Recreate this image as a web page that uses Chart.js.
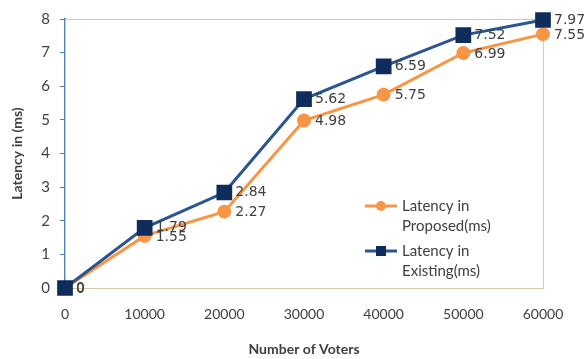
<!DOCTYPE html>
<html>
<head>
<meta charset="utf-8">
<script src="https://cdn.jsdelivr.net/npm/chart.js@4/dist/chart.umd.min.js"></script>
<style>
  html, body { margin: 0; padding: 0; background: #fff; }
  #wrap { width: 587px; height: 359px; }
</style>
</head>
<body>
<div id="wrap"><canvas id="latencyChart" width="587" height="359"></canvas></div>
<script>
// Latency vs number of voters
const voters = [0, 10000, 20000, 30000, 40000, 50000, 60000];
const proposedLatency = [0, 1.55, 2.27, 4.98, 5.75, 6.99, 7.55];
const existingLatency = [0, 1.79, 2.84, 5.62, 6.59, 7.52, 7.97];
const yTicks = [0, 1, 2, 3, 4, 5, 6, 7, 8];

const ORANGE = '#f79646';
const BLUE_LINE = '#2b5590';
const BLUE_MARK = '#0f2d5c';
const TEXT = '#404040';

function toPoints(ys) {
    return voters.map((x, i) => ({ x: x, y: ys[i] }));
}

// border around the plot area (tan frame)
const plotFrame = {
    id: 'plotFrame',
    beforeDatasetsDraw(chart) {
        const a = chart.chartArea;
        const ctx = chart.ctx;
        ctx.save();
        ctx.strokeStyle = '#d8c9aa';
        ctx.lineWidth = 1;
        ctx.strokeRect(a.left + 0.5, a.top + 0.5, a.right - a.left, a.bottom - a.top);
        ctx.restore();
    }
};

// value labels to the right of each point
const valueLabels = {
    id: 'valueLabels',
    afterDatasetsDraw(chart) {
        const ctx = chart.ctx;
        ctx.save();
        ctx.font = '14px "DejaVu Sans"';
        ctx.fillStyle = TEXT;
        ctx.textAlign = 'left';
        ctx.textBaseline = 'middle';
        chart.data.datasets.forEach((ds, di) => {
            const meta = chart.getDatasetMeta(di);
            meta.data.forEach((pt, i) => {
                ctx.fillText(String(ds.data[i].y), pt.x + 11, pt.y + ds.labelDy);
            });
        });
        ctx.restore();
    }
};

// legend with line + marker and two-line captions
const sideLegend = {
    id: 'sideLegend',
    afterDraw(chart) {
        const a = chart.chartArea;
        const ctx = chart.ctx;
        const x0 = a.left + 300;
        let y = a.top + 187;
        ctx.save();
        chart.data.datasets.forEach((ds) => {
            ctx.strokeStyle = ds.borderColor;
            ctx.lineWidth = 3;
            ctx.beginPath();
            ctx.moveTo(x0, y);
            ctx.lineTo(x0 + 32, y);
            ctx.stroke();
            ctx.fillStyle = ds.pointBackgroundColor;
            ctx.beginPath();
            if (ds.pointStyle === 'rect') {
                ctx.rect(x0 + 11, y - 5, 10, 10);
            } else {
                ctx.arc(x0 + 16, y, 5, 0, Math.PI * 2);
            }
            ctx.fill();
            ctx.fillStyle = TEXT;
            ctx.font = '15px Lato';
            ctx.textAlign = 'left';
            ctx.textBaseline = 'middle';
            ds.legendLines.forEach((line, k) => {
                ctx.fillText(line, x0 + 37, y + k * 20);
            });
            y += 45;
        });
        ctx.restore();
    }
};

new Chart(document.getElementById('latencyChart'), {
    type: 'line',
    data: {
        datasets: [
            {
                label: 'Latency in Proposed(ms)',
                legendLines: ['Latency in', 'Proposed(ms)'],
                labelDy: 1,
                data: toPoints(proposedLatency),
                borderColor: ORANGE,
                backgroundColor: ORANGE,
                pointBackgroundColor: ORANGE,
                pointBorderColor: ORANGE,
                pointStyle: 'circle',
                pointRadius: 5.5,
                borderWidth: 3,
                tension: 0,
                clip: false,
                order: 1
            },
            {
                label: 'Latency in Existing(ms)',
                legendLines: ['Latency in', 'Existing(ms)'],
                labelDy: 0,
                data: toPoints(existingLatency),
                borderColor: BLUE_LINE,
                backgroundColor: BLUE_MARK,
                pointBackgroundColor: BLUE_MARK,
                pointBorderColor: BLUE_MARK,
                pointStyle: 'rect',
                pointRadius: 9,
                borderWidth: 3,
                tension: 0,
                clip: false,
                order: 0
            }
        ]
    },
    options: {
        responsive: false,
        animation: false,
        layout: { padding: { top: 16, right: 44, left: 0, bottom: 0 } },
        plugins: {
            legend: { display: false },
            tooltip: { enabled: false }
        },
        scales: {
            x: {
                type: 'linear',
                min: 0,
                max: 60000,
                afterBuildTicks: (scale) => {
                    scale.ticks = voters.map(v => ({ value: v }));
                },
                afterFit: (scale) => { scale.height = 71; },
                ticks: {
                    padding: 18,
                    color: TEXT,
                    font: { family: 'Lato', size: 14 },
                    maxRotation: 0,
                    callback: (v) => String(v)
                },
                grid: { display: false, drawTicks: false },
                border: { display: true, color: '#bfbfbf', width: 1 },
                title: {
                    display: true,
                    text: 'Number of Voters',
                    color: TEXT,
                    font: { family: 'Lato', size: 14, weight: 'bold' },
                    padding: { top: 0, bottom: 1 }
                }
            },
            y: {
                min: 0,
                max: 8,
                afterBuildTicks: (scale) => {
                    scale.ticks = yTicks.map(v => ({ value: v }));
                },
                afterFit: (scale) => { scale.width = 65; },
                ticks: {
                    padding: 10,
                    color: TEXT,
                    font: { family: 'Lato', size: 15 }
                },
                grid: {
                    drawOnChartArea: false,
                    drawTicks: true,
                    tickLength: 5,
                    tickColor: '#4f81bd'
                },
                border: { display: true, color: '#4f81bd', width: 2 },
                title: {
                    display: true,
                    text: 'Latency in (ms)',
                    color: TEXT,
                    font: { family: 'Lato', size: 14, weight: 'bold' },
                    padding: { top: 9, bottom: 0 }
                }
            }
        }
    },
    plugins: [plotFrame, valueLabels, sideLegend]
});
</script>
</body>
</html>
